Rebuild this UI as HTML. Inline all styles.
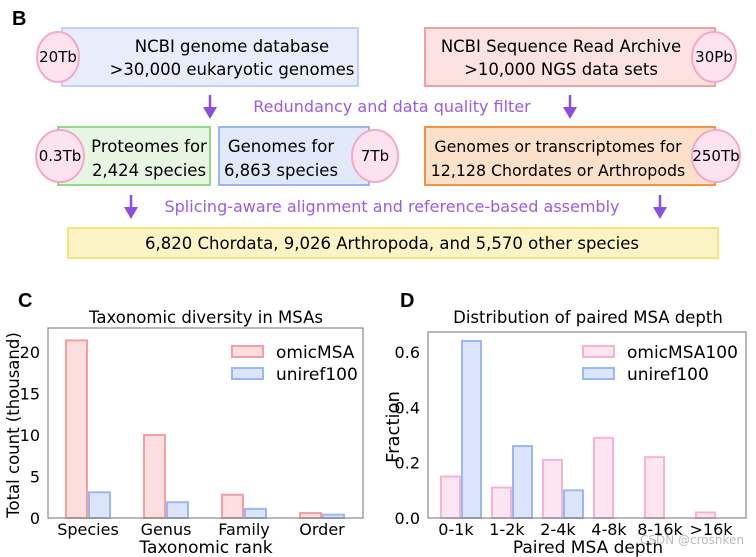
<!DOCTYPE html>
<html><head><meta charset="utf-8"><style>
body{margin:0;background:#fff;}
svg{display:block;font-family:"DejaVu Sans","Liberation Sans",sans-serif;}
</style></head><body>
<svg id="fig" width="756" height="557" viewBox="0 0 756 557">
<text x="12" y="25" font-size="20" font-weight="bold" font-family="Liberation Sans, sans-serif">B</text>
<g>
<rect x="62" y="28" width="296" height="58" fill="#e8ecfb" stroke="#c3cff6" stroke-width="2"/>
<ellipse cx="58" cy="57" rx="21" ry="25" fill="#fde3ef" stroke="#f4a9c8" stroke-width="2"/>
<text x="58" y="62" font-size="15" text-anchor="middle">20Tb</text>
<text x="232" y="52" font-size="16.5" text-anchor="middle">NCBI genome database</text>
<text x="232" y="75" font-size="16.5" text-anchor="middle">&gt;30,000 eukaryotic genomes</text></g>
<g>
<rect x="425" y="28" width="290" height="58" fill="#fde2e2" stroke="#f5a0a0" stroke-width="2"/>
<ellipse cx="714" cy="57" rx="22" ry="25" fill="#fde3ef" stroke="#f4a9c8" stroke-width="2"/>
<text x="714" y="62" font-size="15" text-anchor="middle">30Pb</text>
<text x="561" y="52" font-size="16.5" text-anchor="middle">NCBI Sequence Read Archive</text>
<text x="561" y="75" font-size="16.5" text-anchor="middle">&gt;10,000 NGS data sets</text></g>
<g><line x1="210" y1="95" x2="210" y2="110" stroke="#8a4fe0" stroke-width="2.5"/><path d="M203,107 L217,107 L210,119 Z" fill="#8a4fe0"/></g>
<g><line x1="570" y1="95" x2="570" y2="110" stroke="#8a4fe0" stroke-width="2.5"/><path d="M563,107 L577,107 L570,119 Z" fill="#8a4fe0"/></g>
<text x="392" y="112" font-size="16" fill="#9a5ce6" text-anchor="middle">Redundancy and data quality filter</text>
<g>
<rect x="58" y="127" width="152" height="58" fill="#e6f6e2" stroke="#8fdc85" stroke-width="2"/>
<ellipse cx="60" cy="156" rx="24" ry="26" fill="#fde3ef" stroke="#f4a9c8" stroke-width="2"/>
<text x="60" y="161" font-size="15" text-anchor="middle">0.3Tb</text>
<text x="149" y="152" font-size="16.5" text-anchor="middle">Proteomes for</text>
<text x="149" y="176" font-size="16.5" text-anchor="middle">2,424 species</text></g>
<g>
<rect x="219" y="127" width="150" height="58" fill="#e2e9fb" stroke="#9bb6f2" stroke-width="2"/>
<ellipse cx="375" cy="156" rx="23" ry="26" fill="#fde3ef" stroke="#f4a9c8" stroke-width="2"/>
<text x="375" y="161" font-size="15" text-anchor="middle">7Tb</text>
<text x="281" y="152" font-size="16.5" text-anchor="middle">Genomes for</text>
<text x="281" y="176" font-size="16.5" text-anchor="middle">6,863 species</text></g>
<g>
<rect x="425" y="127" width="290" height="58" fill="#fde0c9" stroke="#f59140" stroke-width="2"/>
<ellipse cx="716" cy="156" rx="24" ry="26" fill="#fde3ef" stroke="#f4a9c8" stroke-width="2"/>
<text x="716" y="161" font-size="15" text-anchor="middle">250Tb</text>
<text x="558" y="152" font-size="15.8" text-anchor="middle">Genomes or transcriptomes for</text>
<text x="558" y="176" font-size="15.8" text-anchor="middle">12,128 Chordates or Arthropods</text></g>
<g><line x1="131" y1="195" x2="131" y2="210" stroke="#8a4fe0" stroke-width="2.5"/><path d="M124,207 L138,207 L131,219 Z" fill="#8a4fe0"/></g>
<g><line x1="660" y1="195" x2="660" y2="210" stroke="#8a4fe0" stroke-width="2.5"/><path d="M653,207 L667,207 L660,219 Z" fill="#8a4fe0"/></g>
<text x="392" y="212" font-size="16" fill="#9a5ce6" text-anchor="middle">Splicing-aware alignment and reference-based assembly</text>
<g>
<rect x="68" y="228" width="650" height="30" fill="#fdf4c6" stroke="#f6e37c" stroke-width="2"/>
<text x="392" y="249" font-size="16.5" text-anchor="middle">6,820 Chordata, 9,026 Arthropoda, and 5,570 other species</text></g>

<text x="18" y="307" font-size="20" font-weight="bold" font-family="Liberation Sans, sans-serif">C</text>
<text x="206" y="323" font-size="16.5" text-anchor="middle">Taxonomic diversity in MSAs</text>
<g id="chartC"></g>
<rect x="48" y="328" width="315" height="190" fill="none" stroke="#888" stroke-width="1.2"/>
<text x="206" y="553" font-size="17" text-anchor="middle">Taxonomic rank</text>
<text transform="translate(19,425) rotate(-90)" font-size="16.5" text-anchor="middle">Total count (thousand)</text>

<text x="400" y="307" font-size="20" font-weight="bold" font-family="Liberation Sans, sans-serif">D</text>
<text x="588" y="323" font-size="16.5" text-anchor="middle">Distribution of paired MSA depth</text>
<g id="chartD"></g>
<rect x="428" y="332" width="318" height="186" fill="none" stroke="#888" stroke-width="1.2"/>
<text x="588" y="553" font-size="17" text-anchor="middle">Paired MSA depth</text>
<text transform="translate(399,427) rotate(-90)" font-size="18" text-anchor="middle">Fraction</text>
<text x="640" y="544" font-size="12" fill="#bbb">CSDN @crosnken</text>
</svg>
<script>
const cCats=["Species","Genus","Family","Order"];
const cOmic=[21.4,10.0,2.8,0.6];
const cUni=[3.1,1.9,1.1,0.4];
const cTicks=[0,5,10,15,20];
const dCats=["0-1k","1-2k","2-4k","4-8k","8-16k",">16k"];
const dOmic=[0.15,0.11,0.21,0.29,0.22,0.02];
const dUni=[0.64,0.26,0.10,0,0,0];
const dTicks=[0.0,0.2,0.4,0.6];
const NS="http://www.w3.org/2000/svg";
function mk(p,t,a){const e=document.createElementNS(NS,t);for(const k in a)e.setAttribute(k,a[k]);p.appendChild(e);return e;}
function chart(g,cats,s1,s2,ticks,o){
  const y=v=>o.y0-v*o.ys, x=i=>o.x0+i*o.step;
  ticks.forEach(t=>{
    const tl=mk(g,'text',{x:o.fx-8,y:y(t)+6,'font-size':16,'text-anchor':'end'});
    tl.textContent=o.fmt(t);
    
    
  });
  cats.forEach((c,i)=>{
    const cx=x(i);
    const r1=mk(g,'rect',{x:cx-o.bw-1,y:y(s1[i]),width:o.bw,height:Math.max(0,s1[i]*o.ys),fill:o.c1f,stroke:o.c1s,'stroke-width':2});
    
    
    if(s2[i]>0){
    const r2=mk(g,'rect',{x:cx+1,y:y(s2[i]),width:o.bw,height:s2[i]*o.ys,fill:'#dbe5fb',stroke:'#9ab8f5','stroke-width':2});
    
    }
    const tl=mk(g,'text',{x:cx+o.lo,y:o.y0+17,'font-size':16,'text-anchor':'middle'});
    tl.textContent=c;
    
    
  });
  const l1=mk(g,'rect',{x:o.lx,y:o.ly,width:31,height:11,fill:o.c1f,stroke:o.c1s,'stroke-width':2});
  
  
  const t1=mk(g,'text',{x:o.lx+44,y:o.ly+12,'font-size':17});t1.textContent=o.n1;
  
  
  const l2=mk(g,'rect',{x:o.lx,y:o.ly+22,width:31,height:11,fill:'#dbe5fb',stroke:'#9ab8f5','stroke-width':2});
  
  
  const t2=mk(g,'text',{x:o.lx+44,y:o.ly+34,'font-size':17});t2.textContent='uniref100';
  
  
}
chart(document.getElementById('chartC'),cCats,cOmic,cUni,cTicks,{y0:518,ys:8.3,x0:88,step:78,bw:21,fx:48,lo:0,fmt:t=>t,c1f:'#fddede',c1s:'#f5a0a0',n1:'omicMSA',lx:232,ly:346});
chart(document.getElementById('chartD'),dCats,dOmic,dUni,dTicks,{y0:518,ys:276.5,x0:461,step:51,bw:19,fx:428,lo:-5,fmt:t=>t.toFixed(1),c1f:'#fde6f1',c1s:'#f7b3d3',n1:'omicMSA100',lx:583,ly:346});
</script>
</body></html>
